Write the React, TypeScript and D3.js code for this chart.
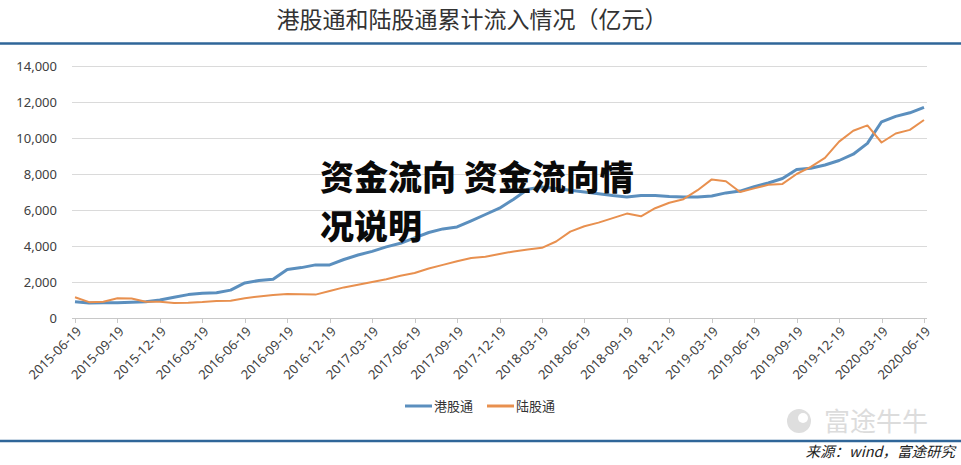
import React from "react";
import * as d3 from "d3";

const tickLabels = [
  "2015-06-19", "2015-09-19", "2015-12-19", "2016-03-19", "2016-06-19",
  "2016-09-19", "2016-12-19", "2017-03-19", "2017-06-19", "2017-09-19",
  "2017-12-19", "2018-03-19", "2018-06-19", "2018-09-19", "2018-12-19",
  "2019-03-19", "2019-06-19", "2019-09-19", "2019-12-19", "2020-03-19",
  "2020-06-19",
];

const yTicks = [0, 2000, 4000, 6000, 8000, 10000, 12000, 14000];

// monthly readings (亿元), one per month starting 2015-06-19
const hkConnect = [
  900, 830, 850, 850, 870, 900, 1000, 1150, 1300, 1380,
  1400, 1550, 1950, 2080, 2150, 2700, 2800, 2950, 2950, 3250,
  3500, 3700, 3950, 4150, 4450, 4750, 4950, 5060, 5400, 5750,
  6100, 6600, 7150, 7280, 7200, 7100, 7000, 6900, 6800, 6720,
  6800, 6800, 6750, 6720, 6720, 6780, 6950, 7050, 7300, 7500,
  7750, 8250, 8320, 8500, 8750, 9100, 9700, 10900, 11200, 11400,
  11700,
];

const shConnect = [
  1150, 880, 900, 1100, 1080, 900, 900, 830, 850, 890,
  950, 960, 1100, 1200, 1280, 1330, 1320, 1300, 1500, 1700,
  1850, 2000, 2150, 2350, 2500, 2750, 2950, 3150, 3330, 3400,
  3550, 3700, 3800, 3900, 4250, 4800, 5100, 5300, 5550, 5800,
  5650, 6100, 6400, 6600, 7100, 7700, 7600, 7000, 7200, 7400,
  7450, 8000, 8400, 8900, 9800, 10400, 10700, 9750, 10250, 10450,
  11000,
];

const seriesNames = ["港股通", "陆股通"];
const seriesColors = ["#5b8fbe", "#e8904f"];

const W = 961;
const H = 465;

export default function App() {
  const x = d3.scaleLinear().domain([0, 60]).range([75, 924]);
  const y = d3.scaleLinear().domain([0, 14000]).range([318, 66]);
  const line = d3
    .line<number>()
    .x((_, i) => x(i))
    .y((d) => y(d));

  const numFont = "'Noto Sans', 'DejaVu Sans', sans-serif";
  const cjkFont = "'Noto Sans CJK SC', 'Noto Sans', sans-serif";

  return (
    <svg
      width={W}
      height={H}
      style={{ position: "absolute", left: 0, top: 0, background: "#fff" }}
    >
      <rect x={0} y={0} width={W} height={H} fill="#fff" />
      {/* title */}
      <text
        x={472}
        y={28}
        textAnchor="middle"
        fontFamily={cjkFont}
        fontSize={23}
        fill="#333"
      >
        港股通和陆股通累计流入情况（亿元）
      </text>
      <line x1={0} x2={W} y1={43.5} y2={43.5} stroke="#2f6699" strokeWidth={2.5} />

      {/* gridlines */}
      {yTicks.map((t) => (
        <g key={t}>
          <line
            x1={72}
            x2={927}
            y1={Math.round(y(t)) + 0.5}
            y2={Math.round(y(t)) + 0.5}
            stroke={t === 0 ? "#c8c8c8" : "#dadada"}
            strokeWidth={1}
          />
          <text
            x={57}
            y={y(t)}
            dy="0.35em"
            textAnchor="end"
            fontFamily={numFont}
            fontSize={13}
            fill="#404040"
          >
            {d3.format(",")(t)}
          </text>
        </g>
      ))}

      {/* x ticks and labels */}
      {tickLabels.map((lab, i) => {
        const tx = x(i * 3);
        return (
          <g key={lab}>
            <line
              x1={Math.round(tx) + 0.5}
              x2={Math.round(tx) + 0.5}
              y1={319}
              y2={323}
              stroke="#c8c8c8"
            />
            <text
              transform={`translate(${tx + 4},${329}) rotate(-45)`}
              textAnchor="end"
              dy="0.35em"
              fontFamily={numFont}
              fontSize={13}
              fill="#404040"
            >
              {lab}
            </text>
          </g>
        );
      })}

      {/* series */}
      <path
        d={line(hkConnect) || ""}
        fill="none"
        stroke={seriesColors[0]}
        strokeWidth={3}
        strokeLinejoin="round"
      />
      <path
        d={line(shConnect) || ""}
        fill="none"
        stroke={seriesColors[1]}
        strokeWidth={2}
        strokeLinejoin="round"
      />

      {/* legend */}
      {seriesNames.map((name, i) => {
        const lx = 405 + i * 82;
        return (
          <g key={name}>
            <line
              x1={lx}
              x2={lx + 27}
              y1={406}
              y2={406}
              stroke={seriesColors[i]}
              strokeWidth={3}
            />
            <text
              x={lx + 29}
              y={406}
              dy="0.35em"
              fontFamily={cjkFont}
              fontSize={13}
              fill="#333"
            >
              {name}
            </text>
          </g>
        );
      })}

      {/* overlay text */}
      <text
        x={320}
        y={190}
        fontFamily={cjkFont}
        fontWeight={900}
        fontSize={34}
        fill="#0a0a0a"
      >
        资金流向 资金流向情
      </text>
      <text
        x={320}
        y={239}
        fontFamily={cjkFont}
        fontWeight={900}
        fontSize={34}
        fill="#0a0a0a"
      >
        况说明
      </text>

      {/* watermark */}
      <circle cx={799} cy={421} r={12} fill="#dedede" />
      <circle cx={803} cy={418} r={5} fill="#fff" />
      <text
        x={824}
        y={431}
        fontFamily={cjkFont}
        fontSize={26}
        fill="#dcdcdc"
      >
        富途牛牛
      </text>

      {/* bottom rule & source */}
      <line x1={0} x2={W} y1={441} y2={441} stroke="#2f6699" strokeWidth={2.5} />
      <text
        x={955}
        y={457}
        textAnchor="end"
        fontFamily={cjkFont}
        fontStyle="italic"
        fontSize={14.5}
        fill="#222"
      >
        来源：wind，富途研究
      </text>
    </svg>
  );
}
